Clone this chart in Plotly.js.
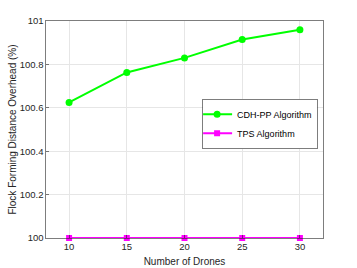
<!DOCTYPE html>
<html><head><meta charset="utf-8">
<script src="https://cdn.plot.ly/plotly-3.0.1.min.js"></script>
<style>html,body{margin:0;padding:0;background:#fff}#c{width:357px;height:268px}</style>
</head><body><div id="c"></div>
<script>
const drones = [10, 15, 20, 25, 30];
const cdhpp = [100.625, 100.763, 100.830, 100.915, 100.960];
const tps = [100, 100, 100, 100, 100];
const yTicks = [100, 100.2, 100.4, 100.6, 100.8, 101];
const yTickText = ['100', '100.2', '100.4', '100.6', '100.8', '101'];

const traces = [
  {x: drones, y: cdhpp, name: 'CDH-PP Algorithm', mode: 'lines+markers',
   line: {color: '#00ff00', width: 2}, marker: {color: '#00ff00', size: 7, symbol: 'circle'}},
  {x: drones, y: tps, name: 'TPS Algorithm', mode: 'lines+markers',
   line: {color: '#ff00ff', width: 2}, marker: {color: '#ff00ff', size: 6, symbol: 'square'}, cliponaxis: false}
];
const layout = {
  width: 357, height: 268,
  margin: {l: 46, r: 34, t: 21, b: 30},
  paper_bgcolor: '#fff', plot_bgcolor: '#fff',
  font: {family: 'Liberation Sans, Arial, sans-serif', size: 9.5, color: '#262626'},
  showlegend: true,
  legend: {x: 0.565, y: 0.64, xanchor: 'left', yanchor: 'top', bgcolor: '#fff',
    bordercolor: '#262626', borderwidth: 0.6, font: {size: 9, color: '#000'},
    tracegroupgap: 0, itemwidth: 30, indentation: -6},
  xaxis: {range: [8, 32], tickvals: drones, showgrid: true, gridcolor: '#e6e6e6', gridwidth: 1,
    showline: true, linecolor: '#262626', linewidth: 0.6, mirror: true, zeroline: false,
    ticks: 'inside', ticklen: 3, tickcolor: '#262626', tickwidth: 0.6,
    title: {text: 'Number of Drones', font: {size: 10}, standoff: 6}},
  yaxis: {range: [100, 101], tickvals: yTicks, ticktext: yTickText, showgrid: true, gridcolor: '#e6e6e6',
    showline: true, linecolor: '#262626', linewidth: 0.6, mirror: true, zeroline: false,
    ticks: 'inside', ticklen: 3, tickcolor: '#262626', tickwidth: 0.6,
    title: {text: 'Flock Forming Distance Overhead (%)', font: {size: 10}, standoff: 1}}
};
Plotly.newPlot('c', traces, layout, {displayModeBar: false, staticPlot: true});
</script></body></html>
